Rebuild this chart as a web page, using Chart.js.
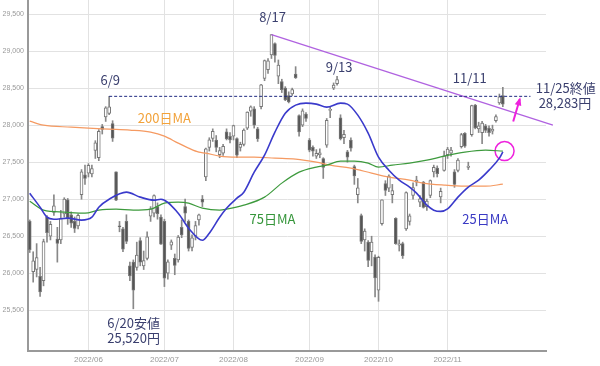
<!DOCTYPE html>
<html>
<head>
<meta charset="utf-8">
<script src="https://cdn.jsdelivr.net/npm/chart.js@4.4.1/dist/chart.umd.min.js"></script>
<style>
body { margin: 0; background: #fff; }
#wrap { width: 600px; height: 366px; }
</style>
</head>
<body>
<div id="wrap"><canvas id="myChart"></canvas></div>
<script>
// trading days from 2022/5/9 to 2022/11/25, index 0 = 5/9
var monthLabels = ["2022/06", "2022/07", "2022/08", "2022/09", "2022/10", "2022/11"];
var monthStart = [17, 39, 59, 81, 101, 121];
var yTicks = [25500, 26000, 26500, 27000, 27500, 28000, 28500, 29000, 29500];

var open = [26700,26020,26050,25960,25900,26760,26500,26820,26460,26450,26800,26990,26790,26700,26640,27060,27330,
	27350,27340,27660,27560,27980,28110,28160,28020,27370,26640,26600,26700,26100,26150,26080,26440,26100,26200,26770,26810,26900,26760,
	26700,26000,26380,26200,26180,26620,26900,26700,26350,26500,26720,27000,27300,27700,27820,27800,27600,27620,27910,27850,
	27850,27820,27700,27740,27960,28190,28220,27950,28250,28630,28750,28950,29100,28660,28590,28500,28400,28420,28690,28130,28000,28150,
	27800,27700,27580,27600,27550,27730,28200,28500,28560,28100,27830,27640,27800,27440,27060,26780,26450,26420,26290,26220,
	25770,26670,27210,27150,27060,26740,26380,26400,26600,26700,27050,27230,26960,27230,26900,27050,27370,27420,27030,27390,
	27600,27620,27370,27390,27710,27890,27430,27870,28270,27950,27900,27990,27960,27920,28060,28300,28400];
var high = [26720,26290,26400,26080,26460,26780,26700,27060,26620,26850,27020,27010,26830,26760,26800,27400,27460,
	27480,27460,27790,27940,28010,28250,28389,28060,27370,26700,26620,26790,26150,26180,26420,26480,26300,26560,26900,27060,26950,26790,
	26730,26180,26450,26260,26510,26720,27000,26720,26520,26700,26800,27050,27690,27830,27950,27860,27700,27740,27950,27900,
	28000,27830,27770,27950,28180,28260,28250,27970,28550,28880,28900,29222,29110,28880,28620,28520,28450,28500,28790,28140,28220,28170,
	27820,27720,27670,27680,27560,28090,28250,28570,28660,28140,27930,27660,27830,27460,27280,26800,26600,26440,26500,26250,
	26230,26990,27250,27330,27200,26750,26450,26420,27100,26800,27220,27310,27050,27240,27000,27260,27460,27450,27150,27650,
	27700,27700,27400,27550,27890,27900,27500,28270,28280,28040,28050,28010,27990,28000,28140,28420,28510];
var low = [26280,25880,25950,25688,25830,26420,26450,26780,26150,26400,26760,26660,26620,26550,26600,27000,27200,
	27300,27300,27550,27520,27880,28050,28140,27780,26980,26560,26290,26400,25900,25520,26040,26100,26050,26180,26700,26760,26730,26390,
	25820,25920,26320,25980,26150,26480,26700,26300,26300,26450,26650,26900,27250,27650,27780,27640,27560,27590,27800,27760,
	27800,27560,27650,27720,27940,28120,27960,27780,28220,28600,28700,28900,28850,28560,28440,28330,28300,28400,28630,27850,27980,28050,
	27640,27580,27550,27560,27280,27700,28100,28480,28540,27800,27750,27500,27650,27200,26950,26400,26300,26090,26100,25680,
	25621,26650,27050,27100,26950,26390,26300,26200,26580,26650,27000,27180,26900,26880,26850,27020,27300,27300,26950,27380,
	27550,27580,27160,27370,27690,27700,27400,27850,27950,27900,27750,27900,27850,27880,28040,28280,28250];
var close = [26319,26167,26213,25748,26427,26547,26659,26911,26402,26739,27001,26748,26677,26604,26781,27369,27279,
	27457,27413,27761,27915,27943,28234,28246,27824,26987,26629,26326,26431,25963,25771,26246,26149,26171,26491,26871,27049,26804,26393,
	25935,26153,26423,26107,26490,26517,26812,26336,26478,26643,26788,26961,27680,27803,27915,27699,27655,27715,27815,27801,
	27993,27594,27741,27932,28175,28249,27999,27819,28546,28871,28868,29222,28942,28810,28480,28340,28313,28479,28641,27910,28195,28091,
	27661,27650,27619,27626,27430,28065,28214,28542,28614,27818,27875,27567,27688,27313,27153,26431,26571,26173,26422,25937,
	26215,26992,27120,27311,27116,26401,26396,26237,27090,26775,27156,27257,27006,26890,26974,27250,27431,27345,27105,27587,
	27678,27663,27199,27527,27872,27716,27446,28263,27963,27990,28028,27930,27899,27944,28115,28383,28283];

// moving averages: day index / value
var ma25Day = [0,3,5,7,11,15,18,20,23,28,32,36,38,43,46,50,52,55,57,60,62,65,68,71,74,77,80,83,86,90,92,95,98,101,104,107,110,112,115,117,119,121,124,127,130,133,136,137];
var ma25 = [27080,26892,26757,26730,26744,26717,26757,26892,27000,27095,27028,26987,27000,26811,26609,26446,26541,26757,26879,27014,27095,27365,27595,27906,28162,28270,28297,28284,28243,28297,28284,28135,27892,27568,27392,27257,27163,27082,26919,26852,26835,26870,27028,27163,27257,27392,27554,27640];
var ma75Day = [0,4,10,16,20,25,30,35,39,43,46,50,55,57,62,68,73,78,83,86,90,94,98,101,105,110,115,120,126,132,137];
var ma75 = [26973,26852,26825,26811,26852,26865,26852,26865,26946,26960,26946,26879,26852,26865,26919,27028,27217,27365,27433,27460,27514,27514,27487,27433,27460,27487,27527,27581,27635,27662,27649];
var ma200Day = [0,4,12,17,23,29,35,39,43,46,49,51,55,60,65,71,77,83,87,93,99,104,110,114,120,126,132,137];
var ma200 = [28054,28000,27973,27959,27946,27933,27906,27852,27757,27690,27635,27622,27581,27568,27568,27554,27541,27500,27460,27419,27352,27298,27257,27217,27190,27176,27176,27203];

// 6/9 high, 8/17 high, 11/25 close
var jun9High = 28389;
var aug17High = 29222;
var lastClose = 28283;

var textColor = "#3a3f6e";
var notes = [
	{ t: "6/9", x: 23.3, y: 28608, c: textColor },
	{ t: "200日MA", x: 39, y: 28095, c: "#f2a23a" },
	{ t: "8/17", x: 70.3, y: 29459, c: textColor },
	{ t: "9/13", x: 89.6, y: 28784, c: textColor },
	{ t: "75日MA", x: 70.3, y: 26730, c: "#35953a" },
	{ t: "11/11", x: 127.4, y: 28635, c: textColor },
	{ t: "11/25終値", x: 155.2, y: 28500, c: textColor },
	{ t: "28,283円", x: 155, y: 28297, c: textColor },
	{ t: "25日MA", x: 131.9, y: 26730, c: "#3a3ac4" },
	{ t: "6/20安値", x: 30.1, y: 25325, c: textColor },
	{ t: "25,520円", x: 30.1, y: 25122, c: textColor }
];

function pairs(xs, ys) {
	let out = [];
	for (let i = 0; i < xs.length; i++) out.push({ x: xs[i], y: ys[i] });
	return out;
}

var wicks = [], bodies = [], bodyColors = [];
for (let i = 0; i < close.length; i++) {
	wicks.push({ x: i, y: [low[i], high[i]] });
	bodies.push({ x: i, y: [open[i], close[i]] });
	bodyColors.push(close[i] >= open[i] ? "#ffffff" : "#555555");
}

var notesPlugin = {
	id: "notes",
	afterDatasetsDraw(chart) {
		let ctx = chart.ctx;
		let xs = chart.scales.x, ys = chart.scales.y;
		ctx.save();
		ctx.font = "13px 'Noto Sans CJK JP', sans-serif";
		ctx.textAlign = "center";
		ctx.textBaseline = "middle";
		notes.forEach(function (n) {
			ctx.fillStyle = n.c;
			ctx.fillText(n.t, xs.getPixelForValue(n.x), ys.getPixelForValue(n.y));
		});
		// magenta arrow pointing up
		let x1 = xs.getPixelForValue(140), y1 = ys.getPixelForValue(28050);
		let x2 = xs.getPixelForValue(141.9), y2 = ys.getPixelForValue(28350);
		ctx.strokeStyle = "#ee22dd";
		ctx.fillStyle = "#ee22dd";
		ctx.lineWidth = 2;
		ctx.beginPath();
		ctx.moveTo(x1, y1);
		ctx.lineTo(x2, y2);
		ctx.stroke();
		let a = Math.atan2(y2 - y1, x2 - x1);
		ctx.beginPath();
		ctx.moveTo(x2 + Math.cos(a) * 2, y2 + Math.sin(a) * 2);
		ctx.lineTo(x2 - Math.cos(a - 0.5) * 7, y2 - Math.sin(a - 0.5) * 7);
		ctx.lineTo(x2 - Math.cos(a + 0.5) * 7, y2 - Math.sin(a + 0.5) * 7);
		ctx.closePath();
		ctx.fill();
		ctx.restore();
	}
};

function noPad(scale) {
	scale.paddingTop = 0;
	scale.paddingBottom = 0;
	scale.paddingLeft = 0;
	scale.paddingRight = 0;
}

var ctx = document.getElementById('myChart').getContext('2d');
var chart = new Chart(ctx, {
	type: 'bar',
	data: {
		datasets: [
			{ type: 'line', data: pairs(ma25Day, ma25), borderColor: "#3a3acb", borderWidth: 1.6, pointRadius: 0, cubicInterpolationMode: 'monotone', order: 0 },
			{ type: 'line', data: pairs(ma75Day, ma75), borderColor: "#3d9a3d", borderWidth: 1.2, pointRadius: 0, cubicInterpolationMode: 'monotone', order: 0 },
			{ type: 'line', data: pairs(ma200Day, ma200), borderColor: "#f59a62", borderWidth: 1.2, pointRadius: 0, cubicInterpolationMode: 'monotone', order: 0 },
			{ type: 'line', data: [{ x: 23, y: jun9High }, { x: 145, y: jun9High }], borderColor: "#1f2a80", borderWidth: 1, borderDash: [3, 2], pointRadius: 0, clip: false, order: 0 },
			{ type: 'line', data: [{ x: 70, y: aug17High }, { x: 151.5, y: 28000 }], borderColor: "#b062e0", borderWidth: 1.3, pointRadius: 0, clip: false, order: 0 },
			{ type: 'line', data: [{ x: 137.5, y: 27650 }], showLine: false, pointRadius: 9.5, pointBorderColor: "#ee22dd", pointBackgroundColor: "rgba(0,0,0,0)", pointBorderWidth: 1.5, clip: false, order: 0 },
			{ data: bodies, backgroundColor: bodyColors, borderColor: "#777", borderWidth: 1, borderSkipped: false, barThickness: 3, grouped: false, order: 1 },
			{ data: wicks, backgroundColor: "#888", borderWidth: 0, barThickness: 1, grouped: false, order: 2 }
		]
	},
	options: {
		responsive: true,
		maintainAspectRatio: false,
		animation: false,
		layout: { autoPadding: false, padding: { left: 0, right: 54, top: 0, bottom: 0 } },
		plugins: { legend: { display: false }, tooltip: { enabled: false } },
		scales: {
			x: {
				type: 'linear',
				offset: false,
				min: -0.5,
				max: 149.5,
				afterBuildTicks: function (scale) {
					scale.ticks = monthStart.map(function (v) { return { value: v }; });
				},
				afterFit: function (scale) { scale.height = 15; noPad(scale); },
				ticks: {
					autoSkip: false,
					maxRotation: 0,
					padding: 4,
					color: "#999",
					font: { size: 8 },
					callback: function (v) { return monthLabels[monthStart.indexOf(v)]; }
				},
				grid: { color: "#e2e2e2", drawTicks: false, offset: false },
				border: { color: "#999", width: 2 }
			},
			y: {
				min: 24950,
				max: 29690,
				afterBuildTicks: function (scale) {
					scale.ticks = yTicks.map(function (v) { return { value: v }; });
				},
				afterFit: function (scale) { scale.width = 28; noPad(scale); },
				ticks: {
					padding: 4,
					color: "#999",
					font: { size: 7 },
					callback: function (v) { return v.toLocaleString('en-US'); }
				},
				grid: { color: "#e2e2e2", drawTicks: false },
				border: { color: "#999", width: 2 }
			}
		}
	},
	plugins: [notesPlugin]
});
</script>
</body>
</html>
